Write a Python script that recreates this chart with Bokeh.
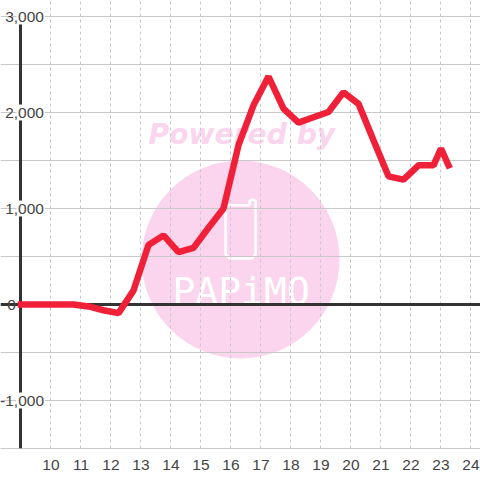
from bokeh.plotting import figure
from bokeh.models import LinearAxis, FixedTicker, NumeralTickFormatter, Range1d, Span, Grid
from bokeh.core.properties import value
from bokeh.embed import file_html
from bokeh.resources import INLINE

hours = [9.0, 9.25, 9.75, 10.25, 10.75, 11.25, 11.75, 12.25, 12.75, 13.25, 13.75, 14.25, 14.75,
         15.25, 15.75, 16.25, 16.75, 17.25, 17.75, 18.25, 18.75, 19.25, 19.75, 20.25, 20.75,
         21.25, 21.75, 22.25, 22.75, 23.0, 23.25]
values = [0, 0, 0, 0, 0, -20, -60, -90, 145, 620, 720, 545, 590,
          800, 1000, 1660, 2075, 2375, 2040, 1895, 1950, 2005, 2210, 2090, 1710,
          1335, 1300, 1450, 1450, 1625, 1450]
x_ticks = list(range(10, 25))
y_label_ticks = [3000, 2000, 1000, -1000]
y_grid_ticks = [-1500, -1000, -500, 0, 500, 1000, 1500, 2000, 2500, 3000]

# watermark phone outline
phone_xs = [15.82, 15.82, 15.95, 16.7, 16.82, 16.82, 16.72, 16.62, 16.62, 15.82]
phone_ys = [1040, 520, 480, 480, 520, 1080, 1095, 1080, 1035, 1035]

GREY = "#c8c8c8"
DARK = "#333333"
PINK = "#fbd5ee"
TEXT = "#444444"
FONT = "Liberation Sans"
Y_TOP = 3166.67

p = figure(width=480, height=480, output_backend="svg", toolbar_location=None,
           x_range=Range1d(8.317, 24.317), y_range=Range1d(-1500, Y_TOP),
           x_axis_location=None, y_axis_location=None,
           min_border_left=0, min_border_right=0, min_border_top=0, min_border_bottom=32,
           frame_width=480, frame_height=448, outline_line_color=None)

p.xgrid.visible = False
p.ygrid.visible = False

# watermark disc and texts sit beneath the grid
p.scatter([16.32], [469], size=198, color=PINK, line_color=None, level="image")
p.text([13.25], [1771], text=["Powered by"], text_font=value("DejaVu Sans"), text_font_size="28.2px",
       text_font_style="bold italic", text_color=PINK, text_baseline="alphabetic", level="image")
p.text([14.05], [136], text=["PAPiMO"], text_font=value("DejaVu Sans Mono"), text_font_size="38px",
       text_color="#ffffff", text_baseline="alphabetic", level="image")
p.line(phone_xs, phone_ys, line_color="#ffffff", line_width=2.5, level="image")

xa = LinearAxis(ticker=FixedTicker(ticks=x_ticks), axis_line_color=GREY, axis_line_width=1,
                major_tick_line_color=None, minor_tick_line_color=None,
                major_label_text_font=FONT, major_label_text_font_size="15.5px",
                major_label_text_color=TEXT, major_label_standoff=5)
p.add_layout(xa, "below")
ya_lab = LinearAxis(ticker=FixedTicker(ticks=y_label_ticks), formatter=NumeralTickFormatter(format="0,0"),
                    axis_line_color=None, major_tick_line_color=None, minor_tick_line_color=None,
                    major_label_text_font=FONT, major_label_text_font_size="15.5px",
                    major_label_text_color=TEXT, major_label_standoff=1, fixed_location=10, level="overlay")
ya_line = LinearAxis(ticker=FixedTicker(ticks=[0]), formatter=NumeralTickFormatter(format="0,0"),
                     axis_line_color=DARK, axis_line_width=3, major_tick_line_color=None,
                     minor_tick_line_color=None, bounds=(-1500, 3000),
                     major_label_text_font=FONT, major_label_text_font_size="15.5px",
                     major_label_text_color=TEXT, major_label_standoff=-1, fixed_location=9)
p.add_layout(ya_line, "left")
p.add_layout(ya_lab, "left")

p.add_layout(Grid(dimension=0, ticker=FixedTicker(ticks=x_ticks), grid_line_color=GREY,
                  grid_line_dash="3 3", grid_line_width=1))
p.add_layout(Grid(dimension=1, ticker=FixedTicker(ticks=y_grid_ticks), grid_line_color=GREY, grid_line_width=1))
p.add_layout(Span(location=0, dimension="width", line_color=DARK, line_width=3, level="underlay"))
# white masks: left of the axis and above the top gridline
p.quad(left=[8.317], right=[8.98], bottom=[-1500], top=[Y_TOP], color="#ffffff", line_color=None, level="underlay")
p.quad(left=[8.317], right=[24.317], bottom=[3006], top=[Y_TOP], color="#ffffff", line_color=None, level="underlay")
# white plates behind labels, interrupting the axis line
p.quad(left=[8.85] * 4, right=[9.8] * 4, bottom=[t - 83 for t in y_label_ticks], top=[t + 83 for t in y_label_ticks],
       color="#ffffff", line_color=None, level="annotation")

p.line(hours, values, line_color="#ef2038", line_width=6.5, line_join="bevel", line_cap="square", level="annotation")

open("out.html", "w").write(file_html(p, INLINE))
